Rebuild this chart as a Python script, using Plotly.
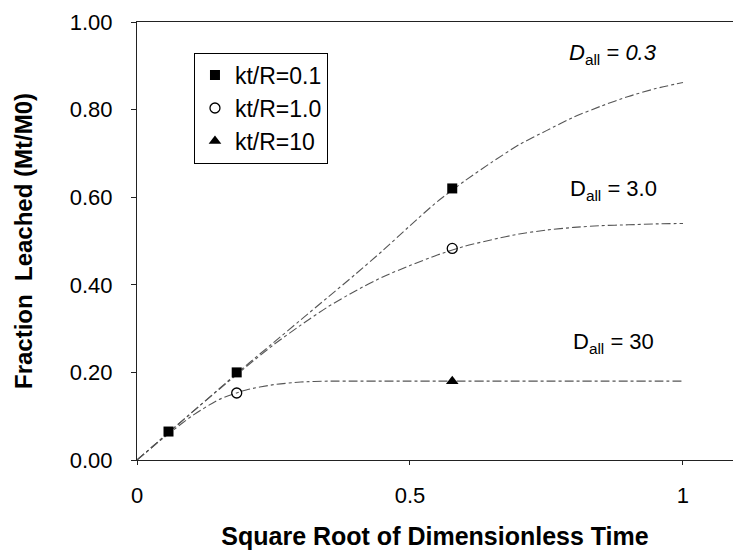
import plotly.graph_objects as go

# Model curves (square root of dimensionless time vs fraction leached)
x_curve = [0, 0.05, 0.1, 0.15, 0.2, 0.25, 0.3, 0.35, 0.4, 0.45, 0.5,
           0.55, 0.6, 0.65, 0.7, 0.75, 0.8, 0.85, 0.9, 0.95, 1.0]
y_d03 = [0, 0.054, 0.108, 0.162, 0.216, 0.268, 0.32, 0.372, 0.424, 0.478, 0.535,
         0.59, 0.637, 0.68, 0.72, 0.752, 0.783, 0.808, 0.83, 0.848, 0.862]
y_d3 = [0, 0.054, 0.108, 0.161, 0.213, 0.263, 0.308, 0.35, 0.386, 0.418, 0.444,
        0.468, 0.488, 0.503, 0.516, 0.525, 0.531, 0.535, 0.537, 0.539, 0.54]
y_d30 = [0, 0.052, 0.1, 0.138, 0.16, 0.172, 0.178, 0.18, 0.18, 0.18, 0.18,
         0.18, 0.18, 0.18, 0.18, 0.18, 0.18, 0.18, 0.18, 0.18, 0.18]

# Data points
x_kt01 = [0.0577, 0.1826, 0.5774]
y_kt01 = [0.065, 0.20, 0.62]
x_kt1 = [0.1826, 0.5774]
y_kt1 = [0.153, 0.483]
x_kt10 = [0.5774]
y_kt10 = [0.18]

curve_labels = ["<i>D</i><sub>all</sub> = <i>0.3</i>", "D<sub>all</sub> = 3.0", "D<sub>all</sub> = 30"]
curve_label_y = [0.928, 0.616, 0.267]

y_ticks = [0, 0.2, 0.4, 0.6, 0.8, 1.0]
y_ticktext = ["0.00", "0.20", "0.40", "0.60", "0.80", "1.00"]
x_ticks = [0, 0.5, 1]
x_ticktext = ["0", "0.5", "1"]

FONT = "Arial, Liberation Sans, sans-serif"
line_style = dict(color="#555555", width=1.1, dash="dashdot", shape="spline", smoothing=0.6)

fig = go.Figure()
for yc in (y_d03, y_d3, y_d30):
    fig.add_trace(go.Scatter(x=x_curve, y=yc, mode="lines", line=line_style,
                             showlegend=False, hoverinfo="skip"))

fig.add_trace(go.Scatter(x=x_kt01, y=y_kt01, mode="markers", name="kt/R=0.1",
                         marker=dict(symbol="square", size=10, color="black")))
fig.add_trace(go.Scatter(x=x_kt1, y=y_kt1, mode="markers", name="kt/R=1.0",
                         marker=dict(symbol="circle-open", size=10, color="black",
                                     line=dict(width=1.3, color="black"))))
fig.add_trace(go.Scatter(x=x_kt10, y=y_kt10, mode="markers", name="kt/R=10",
                         marker=dict(symbol="triangle-up", size=11, color="black")))

for txt, yy in zip(curve_labels, curve_label_y):
    fig.add_annotation(x=0.872, y=yy, xref="x", yref="y", text=txt, showarrow=False,
                       font=dict(family=FONT, size=22, color="black"))

fig.update_layout(
    width=733, height=553,
    margin=dict(l=137, r=0, t=22, b=93),
    paper_bgcolor="white", plot_bgcolor="white",
    font=dict(family=FONT, color="black"),
    legend=dict(x=0.0956, y=0.93, xanchor="left", yanchor="top",
                bordercolor="black", borderwidth=1, bgcolor="white",
                font=dict(family=FONT, size=23, color="black"),
                tracegroupgap=0),
)
fig.update_xaxes(range=[0, 1.0916], tickvals=x_ticks, ticktext=x_ticktext,
                 automargin=False,
                 showgrid=False, zeroline=False, showline=True, linecolor="#222",
                 linewidth=1, mirror=True, ticks="outside", ticklen=4, tickcolor="#222",
                 ticklabelstandoff=12,
                 tickfont=dict(family=FONT, size=22, color="black"),
                 title=dict(text="<b>Square Root of Dimensionless Time</b>", standoff=20,
                            font=dict(family=FONT, size=25, color="black")))
fig.update_yaxes(range=[0, 1.0], tickvals=y_ticks, ticktext=y_ticktext,
                 automargin=False,
                 showgrid=False, zeroline=False, showline=True, linecolor="#222",
                 linewidth=1, ticks="outside", ticklen=5, tickcolor="#222",
                 ticklabelstandoff=14,
                 tickfont=dict(family=FONT, size=22, color="black"),
                 title=dict(text="<b>Fraction  Leached (Mt/M0)</b>", standoff=30,
                            font=dict(family=FONT, size=24, color="black")))

fig.write_html("out.html", config={"displayModeBar": False},
               post_script="document.body.style.margin='0';document.body.style.overflow='hidden';")
